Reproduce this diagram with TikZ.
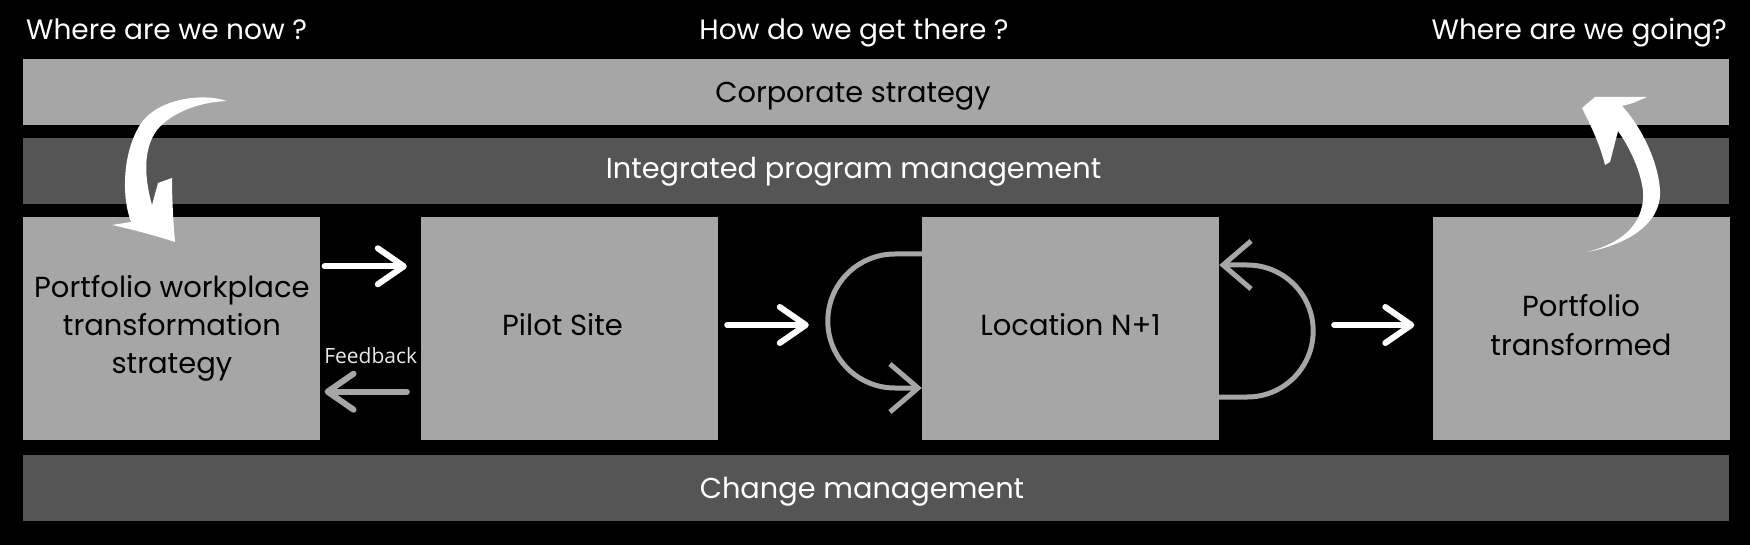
\documentclass[tikz,border=0pt]{standalone}
\usepackage{fontspec}
\setmainfont{Poppins}
\newfontfamily\fbfont{Open Sans}
\usetikzlibrary{arrows.meta,calc}
\definecolor{lgray}{HTML}{A6A6A6}
\definecolor{dgray}{HTML}{555555}
\definecolor{fbtext}{HTML}{E8E8E8}
\newcommand\mydepth{\rule[-7pt]{0pt}{7pt}}
\begin{document}
\begin{tikzpicture}[x=1pt,y=-1pt,
  band/.style={inner sep=0pt,minimum width=1705.6pt,minimum height=66pt},
  box/.style={fill=lgray,inner sep=0pt,minimum width=297pt,minimum height=223.4pt,
    align=center,font=\fontsize{29}{38.3}\selectfont,text=black},
  bandtext/.style={font=\fontsize{28.8}{34}\selectfont,anchor=base,inner sep=0pt},
  title/.style={font=\fontsize{28}{32}\selectfont,text=white,inner sep=0pt},
  warrow/.style={draw=white,line width=6pt,line cap=round,
    -{Straight Barb[length=26pt,width=36pt,line cap=round,line join=round]}},
  garrow/.style={warrow,draw=lgray},
  looparrow/.style={draw=lgray,line width=5pt,
    -{Straight Barb[length=28pt,width=48pt,line cap=butt]}}
]
\fill[black] (0,0) rectangle (1750,545);
\useasboundingbox (0,0) rectangle (1750,545);

% titles
\node[title,anchor=base west] (t1) at (26,40) {Where are we now ?};
\node[title,anchor=base] (t2) at (854,40) {How do we get there ?};
\node[title,anchor=base east] (t3) at (1727,40) {Where are we going?};

% bands
\node[band,fill=lgray] (corp) at (876.2,92) {};
\node[bandtext,text=black] (corpt) at (853,103) {Corporate strategy};
\node[band,fill=dgray] (ipm) at (876.2,171.3) {};
\node[bandtext,text=white] (ipmt) at (853.5,179) {Integrated program management};
\node[band,fill=dgray] (chg) at (876.2,487.7) {};
\node[bandtext,text=white] (chgt) at (862,498) {Change management};

% boxes
\node[box] (b1) at (171.9,328.3) {Portfolio workplace\\transformation\\strategy};
\node[box] (b2) at (569.5,328.3) {Pilot Site\mydepth\hspace*{14pt}};
\node[box] (b3) at (1070.5,328.3) {Location N+1\mydepth};
\node[box] (b4) at (1581,328.3) {Portfolio\\transformed\mydepth};

% straight arrows
\draw[warrow,shorten <=4pt,shorten >=14pt] ([yshift=62pt]b1.east) -- ([yshift=62pt]b2.west);
\draw[garrow,shorten <=14pt,shorten >=4pt] ([yshift=-63.4pt]b2.west) -- ([yshift=-63.4pt]b1.east);
\node[font=\fbfont\fontsize{21}{24}\selectfont,text=fbtext,inner sep=0pt]
  (fb) at ($(b1.east)!0.5!(b2.west)+(0,27)$) {Feedback};
\draw[warrow,shorten <=9pt,shorten >=113pt] ([yshift=3.3pt]b2.east) -- ([yshift=3.3pt]b3.west);
\draw[warrow,shorten <=115pt,shorten >=18pt] ([yshift=3.3pt]b3.east) -- ([yshift=3.3pt]b4.west);

% loops
\draw[looparrow] ($(b3.west)+(0,-74.3)$) -- ++(-27,0)
  .. controls +(-37,0) and +(0,-37) .. ++(-67,67)
  .. controls +(0,37) and +(-37,0) .. ++(67,67) -- ++(27,0);
\draw[looparrow] ($(b3.east)+(0,68.7)$) -- ++(28,0)
  .. controls +(36.5,0) and +(0,36.5) .. ++(66,-66)
  .. controls +(0,-36.5) and +(36.5,0) .. ++(-66,-66) -- ++(-28,0);

% curved white arrows
\fill[white] (227,101) .. controls (200,92) and (155,100) .. (140,125)
  .. controls (123,152) and (121,195) .. (131,222) -- (112,225)
  .. controls (135,230) and (160,237) .. (175,242)
  .. controls (173,220) and (172,195) .. (172,178) -- (158,183) -- (152,205)
  .. controls (145,180) and (142,150) .. (157,130)
  .. controls (172,112) and (200,102) .. (227,101) -- cycle;
\fill[white] (1587,252) .. controls (1625,245) and (1662,225) .. (1660,190)
  .. controls (1658,160) and (1640,125) .. (1622,106)
  -- (1633,103) -- (1647,97) -- (1595,97) -- (1582,108)
  .. controls (1592,128) and (1600,145) .. (1605,165) -- (1610,162) -- (1618,131)
  .. controls (1635,155) and (1645,185) .. (1643,200)
  .. controls (1640,230) and (1615,245) .. (1587,252) -- cycle;
\end{tikzpicture}
\end{document}
